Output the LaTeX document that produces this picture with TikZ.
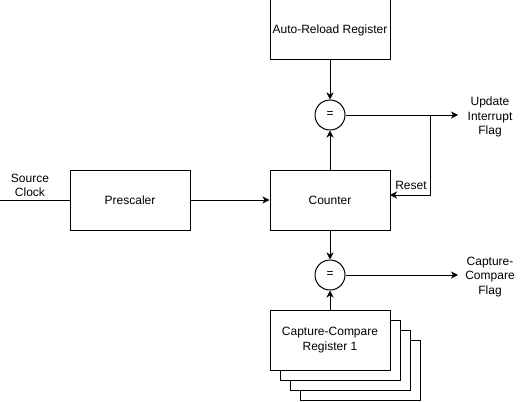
\documentclass[tikz,border=0pt]{standalone}
\usepackage{fontspec}
\setmainfont{Liberation Sans}
\usetikzlibrary{arrows.meta}
\begin{document}
\begin{tikzpicture}[x=1pt,y=-1pt,
  line width=1pt,
  every node/.style={font=\fontsize{12}{14.5}\selectfont},
  blockbox/.style={draw=black,fill=white,minimum width=120pt,minimum height=60pt,inner sep=0pt,align=center},
  eqcirc/.style={draw=black,fill=white,circle,minimum size=30pt,inner sep=0pt},
  lbl/.style={align=center,inner sep=0pt},
  arr/.style={-{Stealth[length=7pt,width=7pt,inset=2pt]}}]
\useasboundingbox (0,0) rectangle (521,401);
% boxes
\node[blockbox] (arr) at (330,30) {Auto-Reload Register};
\node[blockbox] (pre) at (130,200) {Prescaler};
\node[blockbox] (cnt) at (330,200) {Counter};
\node[eqcirc] (eq1) at (330,115) {=};
\node[eqcirc] (eq2) at (330,275) {=};
% stacked capture-compare registers
\node[blockbox] (cc4) at (360,370) {};
\node[blockbox] (cc3) at (350,360) {};
\node[blockbox] (cc2) at (340,350) {};
\node[blockbox] (cc1) at (330,340) {Capture-Compare\\Register 1};
% labels
\node[lbl] (src) at (30,185.5) {Source\\Clock};
\node[lbl] (upd) at (490,117) {Update\\Interrupt\\Flag};
\node[lbl] (ccf) at (490,277) {Capture-\\Compare\\Flag};
\node[lbl] (rst) at (411,185) {Reset};
\coordinate (srcend) at (0,200);
\coordinate (updend) at (458,115);
\coordinate (ccfend) at (458,275);
\coordinate (branch) at (430,115);
\coordinate (rstcorner) at (430,195);
\coordinate (rstend) at (390,195);
% connectors
\draw (srcend) -- (pre.west);
\draw[arr] (pre.east) -- (cnt.west);
\draw[arr] (arr.south) -- (eq1.north);
\draw[arr] (cnt.north) -- (eq1.south);
\draw[arr] (eq1.east) -- (updend);
\draw[arr] (branch) -- (rstcorner) -- (rstend);
\draw[arr] (cnt.south) -- (eq2.north);
\draw[arr] (cc1.north) -- (eq2.south);
\draw[arr] (eq2.east) -- (ccfend);
\end{tikzpicture}
\end{document}
